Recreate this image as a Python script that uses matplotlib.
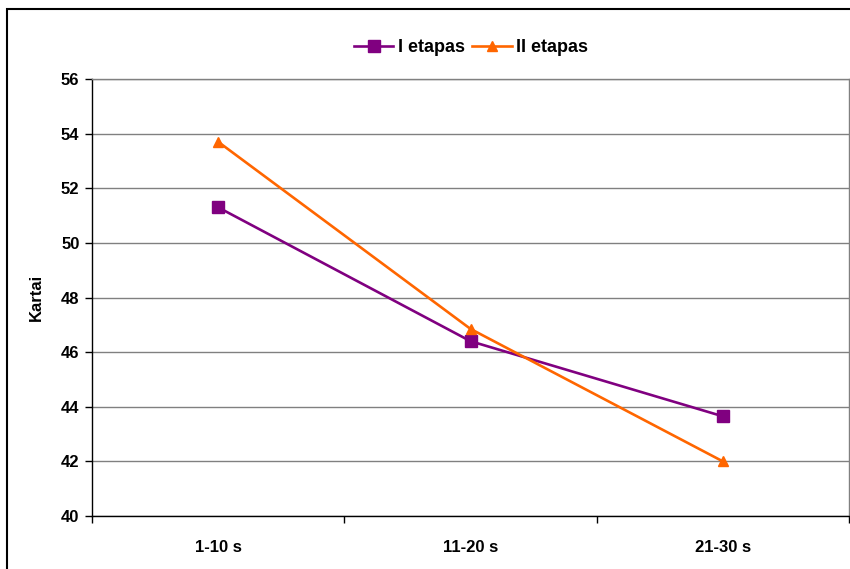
import matplotlib
matplotlib.use("Agg")
import matplotlib.pyplot as plt
from matplotlib.patches import Rectangle

categories = ["1-10 s", "11-20 s", "21-30 s"]
series_names = ["I etapas", "II etapas"]
etapas_1 = [51.3, 46.4, 43.65]
etapas_2 = [53.7, 46.85, 42.0]
y_ticks = [40, 42, 44, 46, 48, 50, 52, 54, 56]
y_label = "Kartai"

plt.rcParams['font.family'] = ['Liberation Sans', 'DejaVu Sans']
plt.rcParams['font.weight'] = 'bold'

W, H = 850, 569
fig = plt.figure(figsize=(W / 100, H / 100), dpi=100)
fig.patch.set_facecolor('white')

# outer frame
fig.patches.append(Rectangle((7 / W, -0.01), 1.02, 1 - 9 / H + 0.01, transform=fig.transFigure,
                             fill=False, edgecolor='black', linewidth=1.5, zorder=0))

ax = fig.add_axes([92 / W, 1 - 516 / H, (849 - 92) / W, (516 - 79) / H])
x = list(range(len(categories)))
ax.plot(x, etapas_1, color='#800080', linewidth=1.9, marker='s', markersize=9,
        label=series_names[0], zorder=3, clip_on=False)
ax.plot(x, etapas_2, color='#FF6600', linewidth=1.9, marker='^', markersize=7.5,
        label=series_names[1], zorder=3, clip_on=False)

ax.set_xlim(-0.5, len(categories) - 0.5)
ax.set_ylim(40, 56)
ax.set_yticks(y_ticks)
ax.set_yticklabels([str(v) for v in y_ticks], fontsize=12, fontweight='bold')
ax.set_xticks(x)
ax.set_xticklabels(categories, fontsize=12, fontweight='bold')
ax.tick_params(axis='x', length=0, pad=17)
ax.set_xticks([-0.5, 0.5, 1.5, 2.5], minor=True)
ax.tick_params(axis='x', which='minor', length=5, width=1, direction='out')
ax.tick_params(axis='y', length=5, width=1, direction='out', pad=4)

ax.yaxis.grid(True, color='#808080', linewidth=1)
ax.set_axisbelow(True)
for s in ['left', 'bottom']:
    ax.spines[s].set_color('black')
    ax.spines[s].set_linewidth(1)
for s in ['top', 'right']:
    ax.spines[s].set_color('#808080')
    ax.spines[s].set_linewidth(1)

ax.set_ylabel(y_label, fontsize=12, fontweight='bold', labelpad=12)

leg = fig.legend(loc='center', bbox_to_anchor=(471 / W, 1 - 48 / H), ncol=2, frameon=False,
                 handlelength=2.2, handletextpad=0.25, columnspacing=0.4,
                 prop={'weight': 'bold', 'size': 13})

fig.savefig("out.png", dpi=100)
